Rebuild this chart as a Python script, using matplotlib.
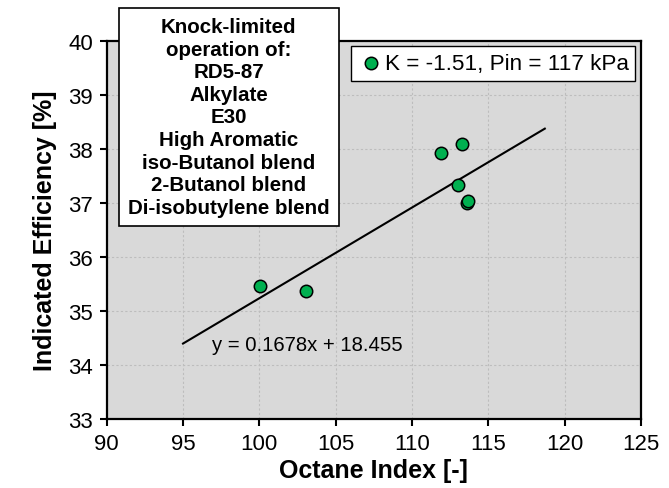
import matplotlib
matplotlib.use("Agg")
import matplotlib.pyplot as plt
import numpy as np

plt.rcParams['font.family'] = ['Liberation Sans', 'DejaVu Sans']

# Data
octane_index = [100.07, 103.05, 111.92, 113.27, 113.04, 113.62, 113.70]
efficiency = [35.46, 35.37, 37.93, 38.09, 37.33, 37.00, 37.03]
fit_slope = 0.1678
fit_intercept = 18.455
fit_x_range = [95.0, 118.7]
series_label = "K = -1.51, Pin = 117 kPa"
fuels = ["RD5-87", "Alkylate", "E30", "High Aromatic",
         "iso-Butanol blend", "2-Butanol blend", "Di-isobutylene blend"]
x_ticks = [90, 95, 100, 105, 110, 115, 120, 125]
y_ticks = [33, 34, 35, 36, 37, 38, 39, 40]

fig = plt.figure(figsize=(6.69, 4.89), dpi=100)
ax = fig.add_axes([0.1595, 0.1411, 0.7986, 0.7736])
ax.set_facecolor('#d9d9d9')

ax.set_xlim(90, 125)
ax.set_ylim(33, 40)
ax.set_xticks(x_ticks)
ax.set_yticks(y_ticks)
ax.grid(True, color='#bdbdbd', linestyle=(0, (2, 2)), linewidth=0.8)
ax.set_axisbelow(True)

fx = np.array(fit_x_range)
ax.plot(fx, fit_slope * fx + fit_intercept, color='black', lw=1.5, zorder=2)

ax.scatter(octane_index, efficiency, s=80, color='#00b050', edgecolor='black',
           linewidth=1.1, zorder=3, label=series_label)

ax.text(96.9, 34.38, f"y = {fit_slope}x + {fit_intercept}", fontsize=14.6,
        ha='left', va='center', zorder=4)

for s in ax.spines.values():
    s.set_linewidth(1.6)
    s.set_color('black')
ax.tick_params(axis='both', direction='out', length=5, width=1.5,
               labelsize=16, colors='black', pad=5)

ax.set_xlabel("Octane Index [-]", fontsize=18, fontweight='bold', labelpad=3)
ax.set_ylabel("Indicated Efficiency [%]", fontsize=18, fontweight='bold', labelpad=8)

leg = ax.legend(loc='upper right', fontsize=16.2, frameon=True, fancybox=False,
                borderaxespad=0.25, handletextpad=0.0, handlelength=1.2,
                borderpad=0.3, markerscale=1.0)
leg.get_frame().set_edgecolor('black')
leg.get_frame().set_linewidth(1.0)
leg.get_frame().set_alpha(1.0)

box_text = "Knock-limited\noperation of:\n" + "\n".join(fuels)
fig.text(0.342, 0.759, box_text, fontsize=14.8, fontweight='bold',
         ha='center', va='center', linespacing=1.24,
         bbox=dict(boxstyle='square,pad=0.45', facecolor='white',
                   edgecolor='black', linewidth=1.2))

fig.savefig("out.png", dpi=100)
